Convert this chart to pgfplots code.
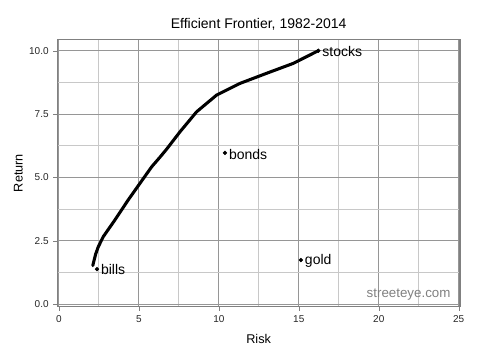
\documentclass[border=0pt]{standalone}
\usepackage{pgfplots}
\pgfplotsset{compat=1.18}
\usepackage{fontspec}
\setmainfont{Liberation Sans}
\definecolor{gmaj}{RGB}{150,150,150}
\definecolor{gmin}{RGB}{200,200,200}
\colorlet{border}{black!50}
\begin{document}
\begin{tikzpicture}
\path[use as bounding box] (-43pt,-34pt) rectangle (317pt,230pt);
\begin{axis}[
  at={(0pt,0pt)}, anchor=south west,
  scale only axis, width=302pt, height=200.5pt,
  xmin=-0.1, xmax=25.08, ymin=-0.1, ymax=10.45,
  xtick={0,5,10,15,20,25},
  ytick={0,2.5,5,7.5,10},
  minor xtick={2.5,7.5,12.5,17.5,22.5},
  minor ytick={1.25,3.75,6.25,8.75},
  yticklabels={0.0,2.5,5.0,7.5,10.0},
  grid=both,
  major grid style={draw=gmaj, line width=0.75pt},
  minor grid style={draw=gmin, line width=0.7pt},
  axis line style={border, line width=0.8pt},
  tick align=outside, tick pos=left,
  major tick length=3pt, minor tick length=0pt,
  ticklabel style={font=\fontsize{7.5}{9}\selectfont, text=black!85},
  /pgf/number format/assume math mode=true,
  xlabel={Risk}, ylabel={Return},
  label style={font=\fontsize{9.5}{11}\selectfont},
  xlabel style={yshift=-2pt},
  ylabel style={yshift=-2pt},
  title={Efficient Frontier, 1982-2014},
  title style={font=\fontsize{10.5}{12}\selectfont, yshift=-3pt},
  clip=false,
]
\addplot[black, line width=2.3pt, line join=round, line cap=round, mark=none] coordinates {
(2.12,1.52) (2.15,1.61) (2.30,1.98) (2.46,2.26) (2.77,2.66) (3.50,3.32) (4.33,4.11) (5.07,4.77)
(5.80,5.42) (6.32,5.80) (6.74,6.12) (7.57,6.80) (8.61,7.59) (9.86,8.25)
(11.32,8.71) (12.99,9.11) (14.65,9.50) (16.22,10.0)
};
\addplot[only marks, mark=*, mark size=1.4pt, black] coordinates {
(2.38,1.38) (10.38,5.97) (15.13,1.74) (16.22,10.0)
};
\node[anchor=west, font=\fontsize{10.5}{12}\selectfont, inner sep=0pt] at (axis cs:2.62,1.35) {bills};
\node[anchor=west, font=\fontsize{10.5}{12}\selectfont, inner sep=0pt] at (axis cs:10.62,5.92) {bonds};
\node[anchor=west, font=\fontsize{10.5}{12}\selectfont, inner sep=0pt] at (axis cs:15.37,1.70) {gold};
\node[anchor=west, font=\fontsize{10.5}{12}\selectfont, inner sep=0pt] at (axis cs:16.46,9.95) {stocks};
\node[anchor=south east, font=\fontsize{10}{12}\selectfont, text=black!50, inner sep=0pt] at (axis cs:24.5,0.15) {streeteye.com};
\end{axis}
\end{tikzpicture}
\end{document}
